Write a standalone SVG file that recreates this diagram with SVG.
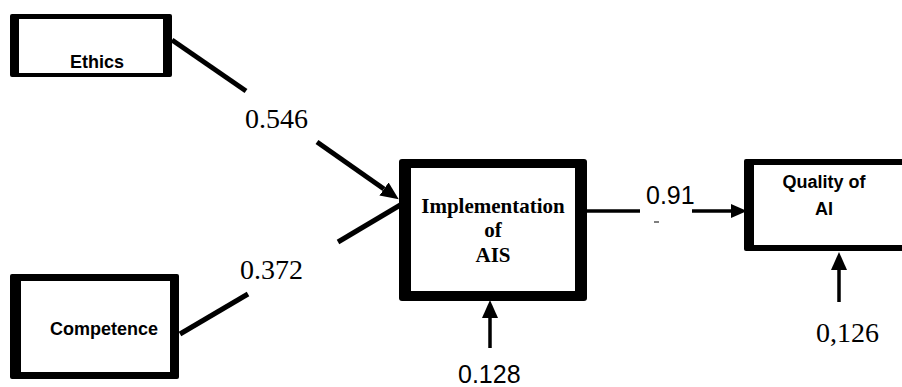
<svg xmlns="http://www.w3.org/2000/svg" width="902" height="387" viewBox="0 0 902 387">
<style>
.frame{fill:#000}
.inner{fill:#fff}
.lbl{font-family:"Liberation Sans",Arial,sans-serif;font-weight:bold;font-size:18px;fill:#000;text-anchor:middle}
.ser{font-family:"Liberation Serif","Times New Roman",serif;font-size:28px;fill:#000}
.sans{font-family:"Liberation Sans",Arial,sans-serif;font-size:25px;fill:#000}
.impl{font-family:"Liberation Serif","Times New Roman",serif;font-weight:bold;font-size:21px;fill:#000;text-anchor:middle}
.thick{stroke:#000;stroke-width:5;fill:none}
.thin{stroke:#000;stroke-width:3.5;fill:none}
</style>
<defs>
<marker id="ah" viewBox="0 0 16 14" refX="0" refY="7" markerWidth="16" markerHeight="14" markerUnits="userSpaceOnUse" orient="auto"><path d="M0,0 L16,7 L0,14 z" fill="#000"/></marker>
<marker id="ah2" viewBox="0 0 18 16" refX="0" refY="8" markerWidth="18" markerHeight="16" markerUnits="userSpaceOnUse" orient="auto"><path d="M0,0 L18,8 L0,16 z" fill="#000"/></marker>
</defs>
<g id="connectors">
<line class="thick" x1="172" y1="40" x2="246" y2="91"/>
<line class="thick" x1="317" y1="142" x2="384" y2="189" marker-end="url(#ah2)"/>
<line class="thick" x1="180" y1="334" x2="248" y2="294"/>
<line class="thick" x1="338" y1="242" x2="402" y2="204"/>
<line class="thin" x1="587" y1="211" x2="640" y2="211"/>
<line class="thin" x1="692" y1="211" x2="731" y2="211" marker-end="url(#ah)"/>
<line class="thin" x1="490" y1="348" x2="490" y2="318" marker-end="url(#ah2)"/>
<line class="thin" x1="839" y1="302" x2="839" y2="270" marker-end="url(#ah2)"/>
</g>
<g id="ethics">
<rect class="frame" x="10" y="14" width="162" height="63" rx="2"/>
<rect class="inner" x="19" y="19" width="144" height="54"/>
<text class="lbl" x="97" y="68">Ethics</text>
</g>
<g id="competence">
<rect class="frame" x="10" y="274" width="169" height="105" rx="2"/>
<rect class="inner" x="21" y="281" width="149" height="91"/>
<text class="lbl" x="104" y="335">Competence</text>
</g>
<g id="implementation">
<rect class="frame" x="399" y="159" width="188" height="142" rx="3"/>
<rect class="inner" x="411" y="168" width="164" height="123"/>
<text class="impl" x="493" y="213">Implementation</text>
<text class="impl" x="493" y="237">of</text>
<text class="impl" x="493" y="262">AIS</text>
</g>
<g id="quality">
<rect class="frame" x="744" y="159" width="170" height="92" rx="2"/>
<rect class="inner" x="754" y="165" width="160" height="80"/>
<text class="lbl" x="824" y="188">Quality of</text>
<text class="lbl" x="824" y="215">AI</text>
</g>
<g id="labels">
<text class="ser" x="245" y="128">0.546</text>
<text class="ser" x="240" y="279">0.372</text>
<text class="ser" x="816" y="342">0,126</text>
<text class="sans" x="458" y="383">0.128</text>
<text class="sans" x="646" y="204">0.91</text>
<line x1="654" y1="222" x2="659" y2="222" stroke="#555" stroke-width="1.5"/>
</g>
</svg>
